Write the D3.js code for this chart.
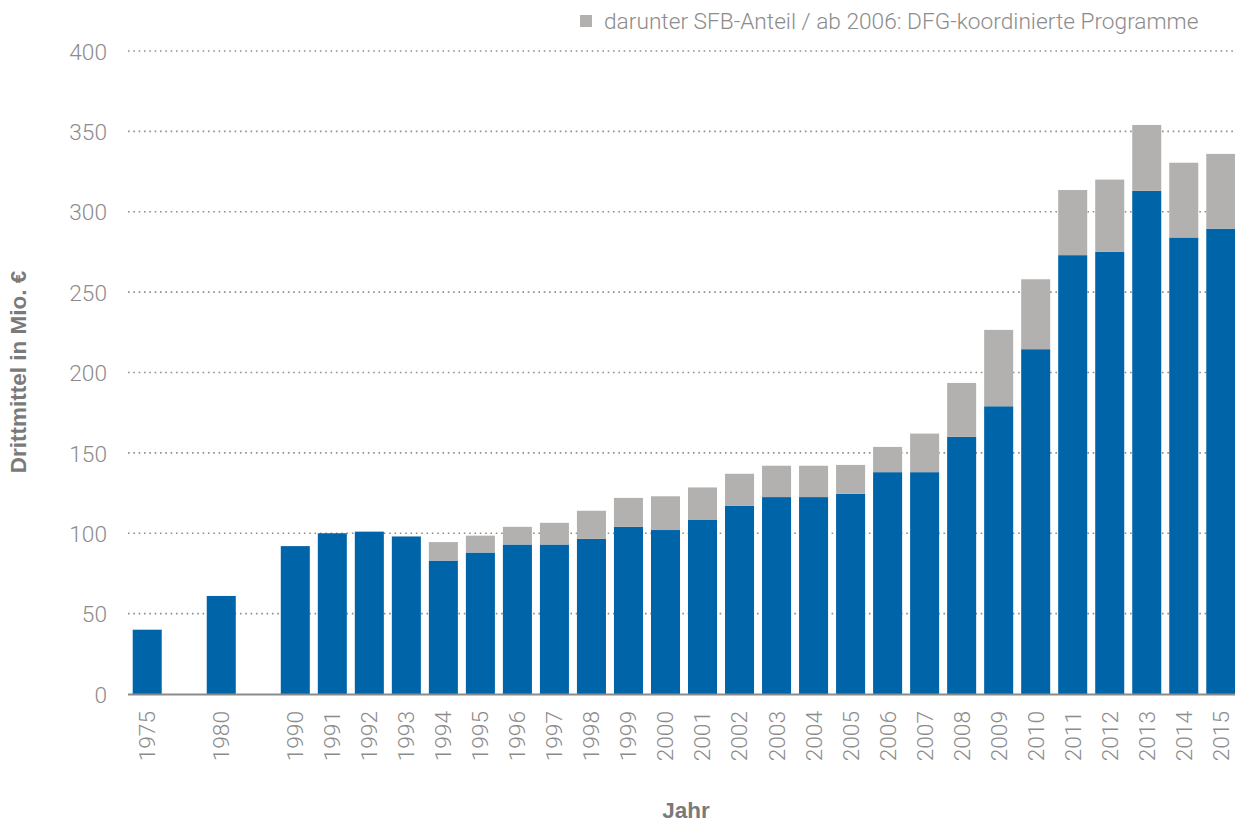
<!DOCTYPE html>
<html><head><meta charset="utf-8">
<script src="https://cdn.jsdelivr.net/npm/d3@7"></script>
<style>
html,body{margin:0;padding:0;background:#fff;}
svg{display:block;}
text{font-family:Roboto,"Liberation Sans",sans-serif;}
</style></head>
<body>
<svg id="chart" width="1235" height="823"></svg>
<script>
const years = ["1975","gap1","1980","gap2","1990","1991","1992","1993","1994","1995","1996","1997","1998","1999","2000","2001","2002","2003","2004","2005","2006","2007","2008","2009","2010","2011","2012","2013","2014","2015"];
// blue part (Drittmittel excluding SFB / DFG-coordinated), Mio. €
const baseValues = [40,null,61,null,92,100,101,98,83,88,93,93,96.5,104,102,108.5,117,122.5,122.5,124.5,138,138,160,179,214.5,273,275,313,284,289.5];
// grey part: darunter SFB-Anteil / ab 2006: DFG-koordinierte Programme
const sfbValues = [0,null,0,null,0,0,0,0,11.5,10.5,11,13.5,17.5,18,21,20,20,19.5,19.5,18,15.7,24,33.5,47.5,43.5,40.5,45,41,46.5,46.5];
const yTicks = [0,50,100,150,200,250,300,350,400];
const legendLabel = "darunter SFB-Anteil / ab 2006: DFG-koordinierte Programme";
const yTitle = "Drittmittel in Mio. €";
const xTitle = "Jahr";

const svg = d3.select("#chart");
const plotLeft = 128, plotRight = 1235, plotTop = 51, plotBottom = 694;
const lightFont = "22.7px";

const x = d3.scaleBand().domain(years).range([129, 1239]).paddingInner(0.216).paddingOuter(0.1);
const y = d3.scaleLinear().domain([0, 400]).range([plotBottom, plotTop]);

// gridlines
svg.append("g").selectAll("line").data(yTicks.filter(d => d > 0)).join("line")
  .attr("x1", plotLeft).attr("x2", plotRight)
  .attr("y1", d => y(d)).attr("y2", d => y(d))
  .attr("stroke", "#8e8e8e").attr("stroke-width", 1.6)
  .attr("stroke-dasharray", "1.6,3.73");

// y labels
const yAxis = d3.axisLeft(y).tickValues(yTicks).tickSize(0).tickPadding(0);
const gy = svg.append("g").attr("transform", `translate(107,0)`).call(yAxis);
gy.select(".domain").remove();
gy.selectAll("text").attr("fill", "#8c8c8c").style("font-size", lightFont).style("font-weight", 300)
  .attr("dy", "0.36em");

const data = years.map((yr, i) => ({yr, base: baseValues[i], sfb: sfbValues[i]})).filter(d => d.base != null);

// blue bars
svg.append("g").selectAll("rect").data(data).join("rect")
  .attr("x", d => x(d.yr)).attr("width", x.bandwidth())
  .attr("y", d => y(d.base)).attr("height", d => y(0) - y(d.base))
  .attr("fill", "#0064a8");
// grey bars
svg.append("g").selectAll("rect").data(data.filter(d => d.sfb > 0)).join("rect")
  .attr("x", d => x(d.yr)).attr("width", x.bandwidth())
  .attr("y", d => y(d.base + d.sfb)).attr("height", d => y(d.base) - y(d.base + d.sfb))
  .attr("fill", "#b2b1af");

// baseline
svg.append("line").attr("x1", plotLeft).attr("x2", plotRight).attr("y1", y(0)+0.5).attr("y2", y(0)+0.5)
  .attr("stroke", "#8a8a8a").attr("stroke-width", 2);

// x axis labels
const xAxis = d3.axisBottom(x).tickValues(years.filter(d => !d.startsWith("gap"))).tickSize(0).tickPadding(0);
const gx = svg.append("g").attr("transform", `translate(0,${plotBottom})`).call(xAxis);
gx.select(".domain").remove();
gx.selectAll("text")
  .attr("fill", "#8c8c8c").style("font-size", lightFont).style("font-weight", 300)
  .attr("text-anchor", "end")
  .attr("transform", "translate(0,17) rotate(-90)")
  .attr("x", 0).attr("y", 0).attr("dy", "0.35em");

// axis titles
svg.append("text").attr("transform", `translate(26,372) rotate(-90)`)
  .attr("text-anchor", "middle").attr("fill", "#7a7a7a")
  .style("font-family", "'Liberation Sans', Arial, sans-serif")
  .style("font-size", "22.5px").style("font-weight", 700).text(yTitle);
svg.append("text").attr("x", 686).attr("y", 818)
  .attr("text-anchor", "middle").attr("fill", "#7a7a7a")
  .style("font-family", "'Liberation Sans', Arial, sans-serif")
  .style("font-size", "22.5px").style("font-weight", 700).text(xTitle);

// legend
svg.append("rect").attr("x", 580).attr("y", 15).attr("width", 12).attr("height", 12).attr("fill", "#b2b1af");
svg.append("text").attr("x", 604).attr("y", 29).attr("fill", "#8c8c8c")
  .style("font-size", lightFont).style("font-weight", 300).text(legendLabel);
</script>
</body></html>
